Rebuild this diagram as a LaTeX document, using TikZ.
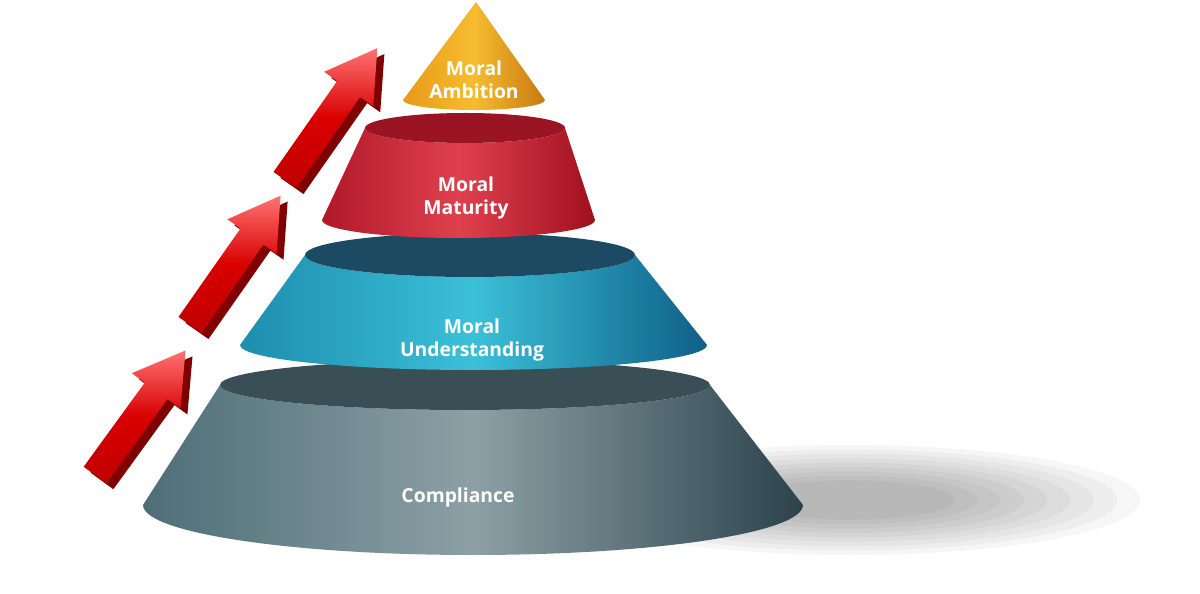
\documentclass[tikz,border=0pt]{standalone}
\usepackage{fontspec}
\setmainfont{Open Sans}
\definecolor{gL}{HTML}{4E6E77}\definecolor{gM}{HTML}{8CA0A5}\definecolor{gR}{HTML}{2C434C}\definecolor{gT}{HTML}{3A4E56}
\definecolor{bL}{HTML}{1E8DAE}\definecolor{bM}{HTML}{3BC0D8}\definecolor{bR}{HTML}{0F5F88}\definecolor{bT}{HTML}{1C4A63}
\definecolor{rL}{HTML}{B01828}\definecolor{rM}{HTML}{E0404E}\definecolor{rR}{HTML}{A0101F}\definecolor{rT}{HTML}{9A1424}
\definecolor{yL}{HTML}{E89A18}\definecolor{yM}{HTML}{F6BC30}\definecolor{yR}{HTML}{C87A10}
\begin{document}
\begin{tikzpicture}[x=0.02cm,y=-0.02cm,
  lbl/.style={text=white,font=\bfseries\fontsize{11}{13}\selectfont,align=center}]
\useasboundingbox (0,0) rectangle (1200,594);
% shadow
\foreach \r in {1.0,0.92,...,0.3}{
  \fill[black,opacity=0.035] (850,500) ellipse ({290*\r} and {55*\r});
}
% arrows
\foreach \tx/\ty/\ang/\len [count=\i] in {95/475/54/154,190/325/55/158,285/180/55/161}{
  \begin{scope}[shift={(\tx+7,\ty+6)},rotate=\ang]
    \fill[red!50!black] (0,-14)--(\len-50,-14)--(\len-50,-30)--(\len,0)--(\len-50,30)--(\len-50,14)--(0,14)--cycle;
  \end{scope}
  \begin{scope}[shift={(\tx,\ty)},rotate=\ang]
    \path[top color=red!55!white,bottom color=red!75!black,middle color=red!85!black]
      (0,-14)--(\len-50,-14)--(\len-50,-30)--(\len,0)--(\len-50,30)--(\len-50,14)--(0,14)--cycle;
  \end{scope}
}
% bottom frustum (Compliance)
\path[left color=gL,right color=gR,middle color=gM]
  (143,505) arc(180:0:330 and 50) -- (710,385) arc(0:180:245 and 25) -- cycle;
\fill[gT] (465,385) ellipse (245 and 25);
% blue frustum
\path[left color=bL,right color=bR,middle color=bM]
  (240,345) arc(180:0:233.5 and 25) -- (635,255) arc(0:180:165 and 22) -- cycle;
\fill[bT] (470,255) ellipse (165 and 22);
% red frustum
\path[left color=rL,right color=rR,middle color=rM]
  (322,220) arc(180:0:136.5 and 18) -- (565,128) arc(0:180:100 and 15) -- cycle;
\fill[rT] (465,128) ellipse (100 and 15);
% yellow cone
\path[left color=yL,right color=yR,middle color=yM]
  (403,100) arc(180:0:71 and 10) -- (476,2) -- cycle;
% labels
\node[lbl] (amb) at (474,80) {Moral\\Ambition};
\node[lbl] (mat) at (466,198) {Moral\\Maturity};
\node[lbl] (und) at (472,340) {Moral\\Understanding};
\node[lbl] (com) at (458,497) {Compliance};
\end{tikzpicture}
\end{document}
